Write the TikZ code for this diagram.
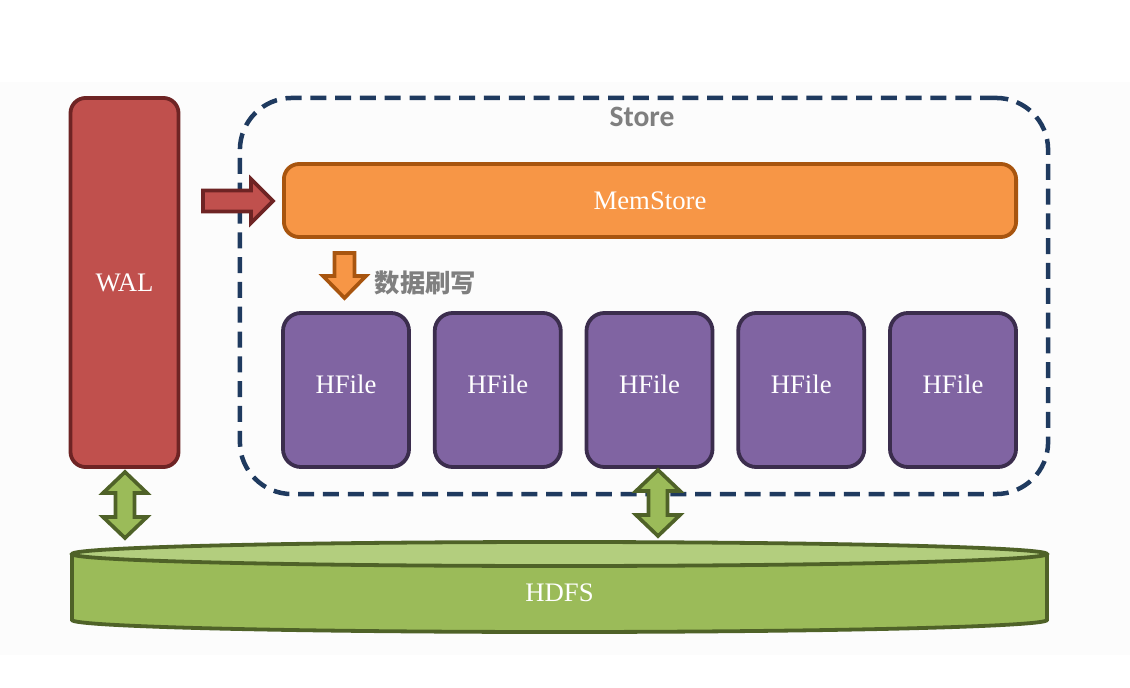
\documentclass[tikz,border=0pt]{standalone}
\usepackage{fontspec}
\setmainfont{Liberation Serif}
\newfontfamily\calibri{Carlito}
\newfontfamily\cjk{Noto Sans CJK SC}
\usetikzlibrary{calc}
\definecolor{walred}{HTML}{C0504D}
\definecolor{walborder}{HTML}{6E2424}
\definecolor{memorange}{HTML}{F79646}
\definecolor{memborder}{HTML}{A8550F}
\definecolor{hfpurple}{HTML}{8064A2}
\definecolor{hfborder}{HTML}{3B2D4D}
\definecolor{hdfsgreen}{HTML}{9BBB59}
\definecolor{hdfslight}{HTML}{B3CE7E}
\definecolor{hdfsborder}{HTML}{4F6228}
\definecolor{storeblue}{HTML}{1F3A5F}
\definecolor{labelgray}{HTML}{7F7F7F}

\begin{document}
\begin{tikzpicture}[x=0.025cm, y=-0.025cm,
  box/.style={draw, line width=2.7pt, rounded corners=0.38cm, text=white,
    font=\fontsize{19}{22}\selectfont, inner sep=0pt},
  walbox/.style={box, fill=walred, draw=walborder, minimum width=2.7cm, minimum height=9.225cm},
  membox/.style={box, fill=memorange, draw=memborder, minimum width=18.3cm, minimum height=1.825cm},
  hfbox/.style={box, fill=hfpurple, draw=hfborder, rounded corners=0.45cm, minimum width=3.15cm,
    minimum height=3.85cm, text depth=0.3cm},
  blockarrow/.style={line width=2.6pt, line join=miter}]
\useasboundingbox (0,0) rectangle (1130,688);
\fill[black!1.2] (0,82) rectangle (1130,655);

% store and its parts
\node[draw=storeblue, line width=3.2pt, dash pattern=on 0.4cm off 0.22cm, rounded corners=1.3cm,
  minimum width=20.2cm, minimum height=9.9cm] (store) at (644,296) {};
\node[font=\calibri\bfseries\fontsize{21}{24}\selectfont, text=labelgray] (storelbl) at (642,117) {Store};
\node[walbox] (wal) at (124.5,282.5) {WAL};
\node[membox] (mem) at (650,200.5) {MemStore};
\foreach \i in {1,...,5}
  \node[hfbox] (hf\i) at (346+151.75*\i-151.75,390) {HFile};

% hdfs cylinder
\draw[fill=hdfsgreen, draw=hdfsborder, line width=2.7pt]
  (72,554) -- (72,620) .. controls (72,626.6) and (290.3,632) .. (559.5,632)
  .. controls (828.7,632) and (1047,626.6) .. (1047,620) -- (1047,554);
\draw[fill=hdfslight, draw=hdfsborder, line width=2.7pt] (559.5,554) ellipse [x radius=487.5, y radius=12];
\node[text=white, font=\fontsize{19}{22}\selectfont] (hdfs) at (559.5,593) {HDFS};

% arrows
\coordinate (ra) at (203,201);
\coordinate (rb) at (273,201);
\draw[blockarrow, fill=walred, draw=walborder] (ra) ++(0,-10.5) -- ++(48,0) -- ++(0,-11.5) -- (rb)
  -- ++(-22,22) -- ++(0,-11.5) -- ++(-48,0) -- cycle;
\coordinate (oa) at (344.5,253);
\coordinate (ob) at (344.5,298);
\draw[blockarrow, fill=memorange, draw=memborder] (oa) ++(-10,0) -- ++(0,23) -- ++(-11.5,0) -- (ob)
  -- ++(21.5,-22) -- ++(-11.5,0) -- ++(0,-23) -- cycle;
\node[anchor=west, text=labelgray, font=\cjk\bfseries\fontsize{18}{20}\selectfont] (flush) at (370,283) {数据刷写};
\coordinate (w1) at (125,472);
\coordinate (w2) at (125,538);
\coordinate (h1) at (658,470);
\coordinate (h2) at (658,536);
\foreach \a/\b in {w1/w2, h1/h2}
  \draw[blockarrow, fill=hdfsgreen, draw=hdfsborder] (\a) -- ++(22,21) -- ++(-12.5,0) -- ++(0,24) -- ++(12.5,0)
    -- (\b) -- ++(-22,-21) -- ++(12.5,0) -- ++(0,-24) -- ++(-12.5,0) -- cycle;
\end{tikzpicture}
\end{document}
